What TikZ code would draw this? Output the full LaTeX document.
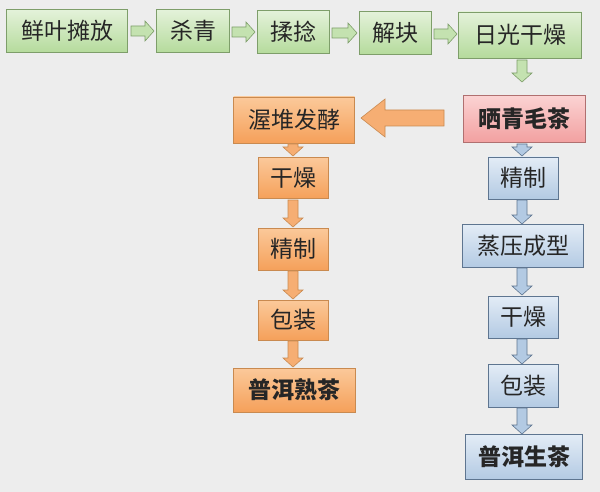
\documentclass[tikz,border=0pt]{standalone}
\usepackage{fontspec}
\setmainfont{Noto Sans CJK SC}
\definecolor{gT}{HTML}{E4F2DA}\definecolor{gB}{HTML}{B5DB9C}\definecolor{gD}{HTML}{7E9E6A}
\definecolor{oT}{HTML}{FBC99A}\definecolor{oB}{HTML}{F5A05A}\definecolor{oD}{HTML}{C98A50}
\definecolor{rT}{HTML}{FBD3D3}\definecolor{rB}{HTML}{F2A0A0}\definecolor{rD}{HTML}{B07070}
\definecolor{bT}{HTML}{E3ECF6}\definecolor{bB}{HTML}{B3CAE3}\definecolor{bD}{HTML}{5E7590}
\begin{document}
\begin{tikzpicture}[x=1pt,y=-1pt,
 box/.style={draw, line width=0.9pt, inner sep=0pt, text=black!85, font=\fontsize{23}{23}\selectfont},
 gbox/.style={box, draw=gD, top color=gT, bottom color=gB},
 obox/.style={box, draw=oD, top color=oT, bottom color=oB},
 rbox/.style={box, draw=rD, top color=rT, bottom color=rB},
 bbox/.style={box, draw=bD, top color=bT, bottom color=bB},
 bold/.style={font=\fontsize{23}{23}\selectfont\bfseries}]
\fill[black!7] (0,0) rectangle (600,492);
\useasboundingbox (0,0) rectangle (600,492);
% green row
\node[gbox,minimum width=121,minimum height=43] (a1) at (67,31) {鲜叶摊放};
\node[gbox,minimum width=73,minimum height=43] (a2) at (193,31) {杀青};
\node[gbox,minimum width=72,minimum height=43] (a3) at (293,32) {揉捻};
\node[gbox,minimum width=72,minimum height=43] (a4) at (395,33) {解块};
\node[gbox,minimum width=123,minimum height=46] (a5) at (520,35) {日光干燥};
\node[rbox,bold,minimum width=122,minimum height=47] (r) at (524,119) {晒青毛茶};
\node[obox,minimum width=121,minimum height=46] (o1) at (294,120) {渥堆发酵};
\node[obox,minimum width=70,minimum height=41] (o2) at (293,178) {干燥};
\node[obox,minimum width=70,minimum height=42] (o3) at (293,249) {精制};
\node[obox,minimum width=70,minimum height=40] (o4) at (293,320) {包装};
\node[obox,bold,minimum width=122,minimum height=44] (o5) at (294,390) {普洱熟茶};
\node[bbox,minimum width=70,minimum height=42] (b1) at (523,178) {精制};
\node[bbox,minimum width=121,minimum height=43] (b2) at (523,246) {蒸压成型};
\node[bbox,minimum width=70,minimum height=42] (b3) at (523,317) {干燥};
\node[bbox,minimum width=70,minimum height=43] (b4) at (523,386) {包装};
\node[bbox,bold,minimum width=117,minimum height=45] (b5) at (524,457) {普洱生茶};
% arrows
\newcommand\rarr[4]{%
 \path[#4] (#1,#3-5) -- ({#2-9},#3-5) -- ({#2-9},#3-10) -- (#2,#3) -- ({#2-9},#3+10) -- ({#2-9},#3+5) -- (#1,#3+5) -- cycle;}
\newcommand\darr[4]{%
 \path[#4] (#1-5,#2) -- (#1-5,{#3-9}) -- (#1-10,{#3-9}) -- (#1,#3) -- (#1+10,{#3-9}) -- (#1+5,{#3-9}) -- (#1+5,#2) -- cycle;}
\tikzset{ga/.style={draw=gD,fill=gB!80!white,line width=0.6pt},
 oa/.style={draw=oD,fill=oB!85!white,line width=0.6pt},
 ba/.style={draw=bD,fill=bB,line width=0.6pt}}
\rarr{131}{154}{31}{ga}
\rarr{232}{255}{32}{ga}
\rarr{332}{357}{33}{ga}
\rarr{434}{457}{34}{ga}
\darr{522}{60}{82}{ga}
\path[oa] (444,110) -- (385,110) -- (385,99) -- (361,118) -- (385,137) -- (385,126) -- (444,126) -- cycle;
\darr{293}{144}{156}{oa}
\darr{293}{200}{227}{oa}
\darr{293}{271}{299}{oa}
\darr{293}{341}{367}{oa}
\darr{522}{144}{156}{ba}
\darr{522}{200}{224}{ba}
\darr{522}{268}{295}{ba}
\darr{522}{339}{364}{ba}
\darr{522}{408}{434}{ba}
\end{tikzpicture}
\end{document}
